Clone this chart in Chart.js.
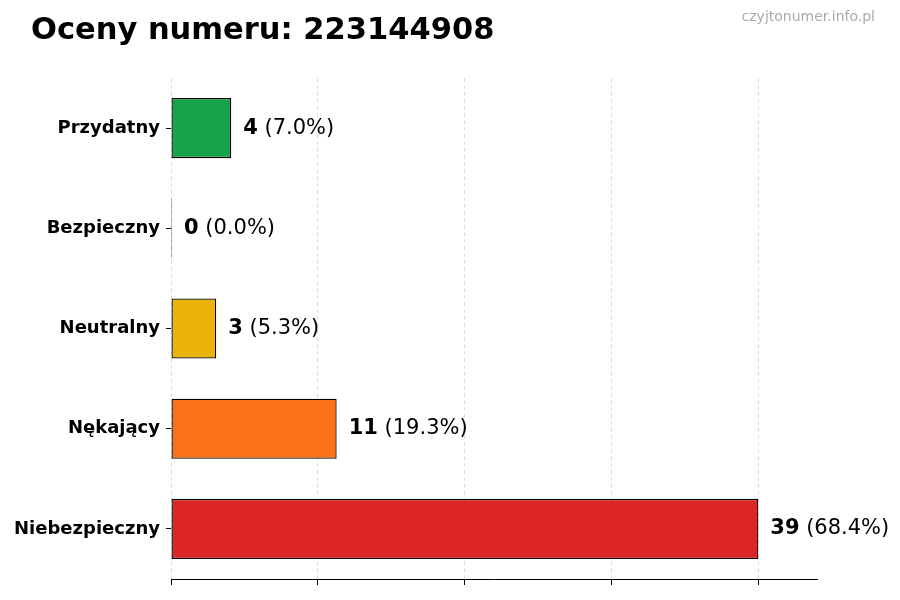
<!DOCTYPE html>
<html>
<head>
<meta charset="utf-8">
<script src="https://cdn.jsdelivr.net/npm/chart.js@4"></script>
<style>
html,body{margin:0;padding:0;background:#fff;}
#wrap{width:900px;height:600px;}
</style>
</head>
<body>
<div id="wrap"><canvas id="c" width="900" height="600"></canvas></div>
<script>
const titleText = "Oceny numeru: 223144908";
const watermark = "czyjtonumer.info.pl";
const categories = ["Przydatny", "Bezpieczny", "Neutralny", "Nękający", "Niebezpieczny"];
const counts = [4, 0, 3, 11, 39];
const barColors = ["#16a34a", "#6b7280", "#eab308", "#f97316", "#dc2626"];
const xTickValues = [0, 9.75, 19.5, 29.25, 39];
const xMax = 42.9;

const total = counts.reduce((a, b) => a + b, 0);
const FONT = "'DejaVu Sans', sans-serif";

const overlay = {
  id: 'overlay',
  afterDatasetsDraw(chart) {
    const ctx = chart.ctx;
    const meta = chart.getDatasetMeta(0);
    ctx.save();
    ctx.textBaseline = 'middle';
    ctx.textAlign = 'left';
    meta.data.forEach((bar, i) => {
      const x = bar.x + 12;
      const y = bar.y;
      ctx.font = 'bold 21px ' + FONT;
      ctx.fillStyle = '#000';
      const v = String(counts[i]);
      ctx.fillText(v, x, y);
      const w = ctx.measureText(v).width;
      ctx.font = '21px ' + FONT;
      const pct = total ? (counts[i] / total * 100).toFixed(1) : '0.0';
      ctx.fillText(' (' + pct + '%)', x + w, y);
    });
    ctx.restore();
  },
  afterDraw(chart) {
    const ctx = chart.ctx;
    ctx.save();
    ctx.textBaseline = 'middle';
    ctx.textAlign = 'left';
    ctx.fillStyle = '#000';
    ctx.font = 'bold 30.5px ' + FONT;
    ctx.fillText(titleText, 31, 31);
    ctx.textAlign = 'right';
    ctx.fillStyle = '#aaaaaa';
    ctx.font = '14px ' + FONT;
    ctx.fillText(watermark, 875, 17);
    ctx.restore();
  }
};

Chart.defaults.font.family = FONT;

new Chart(document.getElementById('c'), {
  type: 'bar',
  data: {
    labels: categories,
    datasets: [{
      data: counts,
      backgroundColor: barColors,
      borderColor: '#000',
      borderWidth: 1.3,
      borderSkipped: false,
      minBarLength: 1,
      barPercentage: 0.6,
      categoryPercentage: 1.0
    }]
  },
  options: {
    indexAxis: 'y',
    responsive: false,
    animation: false,
    devicePixelRatio: 1,
    layout: { padding: { top: 78, right: 83, left: 0, bottom: 0 } },
    plugins: { legend: { display: false }, tooltip: { enabled: false }, title: { display: false } },
    scales: {
      x: {
        min: 0,
        max: xMax,
        z: 1,
        afterBuildTicks(scale) { scale.ticks = xTickValues.map(v => ({ value: v })); },
        afterFit(scale) { scale.height = 21; },
        ticks: { display: false },
        grid: {
          color: 'rgba(200,200,200,0.6)',
          lineWidth: 1,
          drawTicks: true,
          tickLength: 6,
          tickColor: '#000',
          tickBorderDash: []
        },
        border: { display: true, color: '#000', width: 1, dash: [4, 3] }
      },
      y: {
        afterFit(scale) { scale.width = 171; },
        ticks: {
          color: '#000',
          font: { size: 18, weight: 'bold', family: FONT },
          padding: 6
        },
        grid: {
          drawOnChartArea: false,
          drawTicks: true,
          tickLength: 5,
          tickColor: '#000',
          offset: false
        },
        border: { display: false }
      }
    }
  },
  plugins: [overlay]
});
</script>
</body>
</html>
